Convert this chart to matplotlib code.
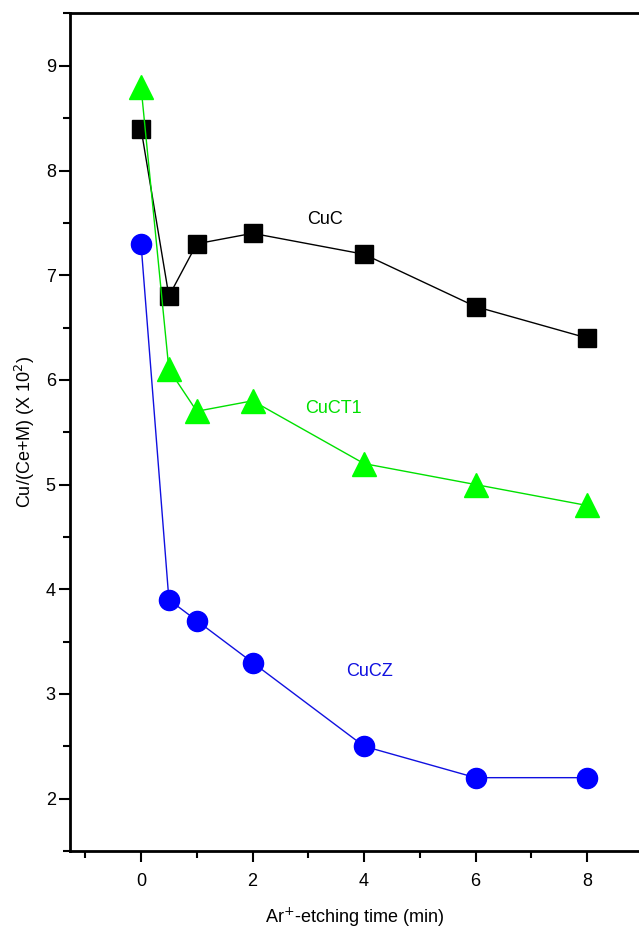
import matplotlib.pyplot as plt
from matplotlib.ticker import MultipleLocator

plt.rcParams['font.family'] = ['Liberation Sans', 'DejaVu Sans']

time_min = [0, 0.5, 1, 2, 4, 6, 8]
cuc = [8.4, 6.8, 7.3, 7.4, 7.2, 6.7, 6.4]
cuct1 = [8.8, 6.1, 5.7, 5.8, 5.2, 5.0, 4.8]
cucz = [7.3, 3.9, 3.7, 3.3, 2.5, 2.2, 2.2]

fig = plt.figure(figsize=(6.39, 9.3), dpi=100)
ax = fig.add_axes([0.109, 0.085, 0.891, 0.9005])

ax.plot(time_min, cuc, color='black', lw=1, marker='s', markersize=13.5)
ax.plot(time_min, cuct1, color='#00e000', lw=1, marker='^', markersize=17.5,
        markerfacecolor='#00ff00', markeredgecolor='#00ff00')
ax.plot(time_min, cucz, color='#1010e0', lw=1, marker='o', markersize=14.5,
        markerfacecolor='#0000ff', markeredgecolor='#0000ff')

# series labels
ax.text(3.3, 7.53, 'CuC', color='black', fontsize=13, ha='center', va='center')
ax.text(3.45, 5.73, 'CuCT1', color='#00e000', fontsize=13, ha='center', va='center')
ax.text(4.1, 3.21, 'CuCZ', color='#1010e0', fontsize=13, ha='center', va='center')

ax.set_xlim(-1.28, 8.93)
ax.set_ylim(1.5, 9.5)
ax.xaxis.set_major_locator(MultipleLocator(2))
ax.xaxis.set_minor_locator(MultipleLocator(1))
ax.yaxis.set_major_locator(MultipleLocator(1))
ax.yaxis.set_minor_locator(MultipleLocator(0.5))
ax.tick_params(which='both', direction='out', width=1.5, labelsize=13)
ax.tick_params(which='major', length=8)
ax.tick_params(which='minor', length=5)
ax.tick_params(axis='x', which='major', pad=8)
ax.tick_params(axis='y', which='major', pad=2)

ax.spines['right'].set_visible(False)
for s in ['left', 'top', 'bottom']:
    ax.spines[s].set_linewidth(2)

ax.set_xlabel('Ar$^{+}$-etching time (min)', fontsize=13, labelpad=11)
ax.set_ylabel('Cu/(Ce+M) (X 10$^{2}$)', fontsize=13, labelpad=6)

fig.savefig('out.png', dpi=100)
